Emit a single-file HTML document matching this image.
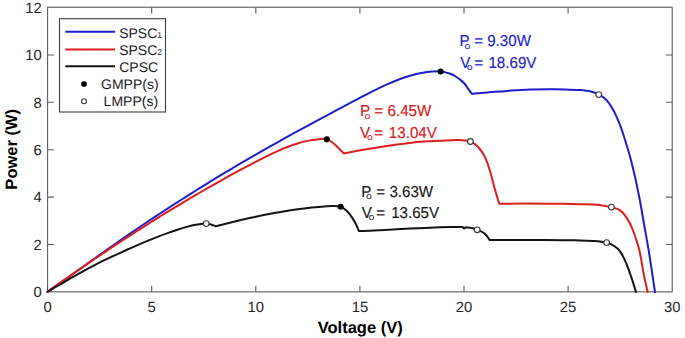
<!DOCTYPE html>
<html><head><meta charset="utf-8"><style>
html,body{margin:0;padding:0;background:#fff;}
body{width:685px;height:338px;overflow:hidden;}
svg{display:block;}
text{font-family:"Liberation Sans",sans-serif;text-rendering:geometricPrecision;}
</style></head><body>
<svg width="685" height="338" viewBox="0 0 685 338">
<rect x="0" y="0" width="685" height="338" fill="#fff"/>
<!-- axes box -->
<g stroke="#5a5a5a" stroke-width="1.1" fill="none">
<rect x="47.6" y="7.25" width="624.6" height="284.6"/>
<!-- x ticks bottom & top -->
<path d="M151.7 291.9V285.7M255.8 291.9V285.7M359.9 291.9V285.7M464.0 291.9V285.7M568.1 291.9V285.7
M151.7 7.25V13.6M255.8 7.25V13.6M359.9 7.25V13.6M464.0 7.25V13.6M568.1 7.25V13.6
M47.6 244.5H53.9M47.6 197.1H53.9M47.6 149.7H53.9M47.6 102.3H53.9M47.6 54.95H53.9
M672.2 244.5H665.9M672.2 197.1H665.9M672.2 149.7H665.9M672.2 102.3H665.9M672.2 54.95H665.9"/>
</g>
<!-- tick labels -->
<g font-size="14.8" fill="#262626" text-anchor="middle">
<text x="47.6" y="312.2">0</text>
<text x="151.7" y="312.2">5</text>
<text x="255.8" y="312.2">10</text>
<text x="359.9" y="312.2">15</text>
<text x="464.0" y="312.2">20</text>
<text x="568.1" y="312.2">25</text>
<text x="672.2" y="312.2">30</text>
</g>
<g font-size="14.8" fill="#262626" text-anchor="end">
<text x="41.8" y="297.1">0</text>
<text x="41.8" y="249.7">2</text>
<text x="41.8" y="202.3">4</text>
<text x="41.8" y="154.9">6</text>
<text x="41.8" y="107.5">8</text>
<text x="41.8" y="60.2">10</text>
<text x="41.8" y="12.8">12</text>
</g>
<!-- axis labels -->
<text x="360.2" y="333" font-size="16.5" font-weight="bold" fill="#000" text-anchor="middle">Voltage (V)</text>
<text transform="translate(16.6,149.3) rotate(-90)" x="0" y="0" font-size="16.5" font-weight="bold" fill="#000" text-anchor="middle">Power (W)</text>

<!-- curves -->
<g fill="none" stroke-width="2" stroke-linejoin="round" stroke-linecap="round">
<path d="M47.50 291.80C50.83 289.46 54.17 287.12 57.50 284.77C60.83 282.42 64.17 280.07 67.50 277.72C70.83 275.37 74.17 273.01 77.50 270.65C80.83 268.29 84.17 265.91 87.50 263.54C90.83 261.17 94.17 258.80 97.50 256.43C100.83 254.06 104.17 251.69 107.50 249.33C110.83 246.97 114.17 244.62 117.50 242.28C120.83 239.94 124.17 237.62 127.50 235.32C130.83 233.02 134.17 230.74 137.50 228.48C140.83 226.22 144.17 223.98 147.50 221.76C150.83 219.54 154.17 217.34 157.50 215.15C160.83 212.96 164.17 210.78 167.50 208.61C170.83 206.45 174.17 204.29 177.50 202.16C180.83 200.03 184.17 197.91 187.50 195.80C190.83 193.69 194.17 191.60 197.50 189.52C200.83 187.44 204.17 185.37 207.50 183.32C210.83 181.27 214.17 179.22 217.50 177.20C220.83 175.18 224.17 173.18 227.50 171.18C230.83 169.19 234.17 167.20 237.50 165.23C240.83 163.26 244.17 161.31 247.50 159.37C250.83 157.43 254.17 155.51 257.50 153.60C260.83 151.69 264.17 149.80 267.50 147.91C270.83 146.02 274.17 144.14 277.50 142.28C280.83 140.42 284.17 138.57 287.50 136.73C290.83 134.89 294.17 133.05 297.50 131.23C300.83 129.41 304.17 127.59 307.50 125.78C310.83 123.97 314.17 122.17 317.50 120.38C320.83 118.59 324.17 116.80 327.50 115.02C330.83 113.24 334.17 111.46 337.50 109.68C340.83 107.91 344.17 106.14 347.50 104.37C350.83 102.60 354.17 100.83 357.50 99.08C360.83 97.33 364.17 95.56 367.50 93.85C370.83 92.14 374.17 90.43 377.50 88.81C380.83 87.19 384.17 85.62 387.50 84.14C390.83 82.66 394.17 81.24 397.50 79.96C400.83 78.68 404.17 77.48 407.50 76.44C410.83 75.40 414.17 74.47 417.50 73.73C420.83 72.99 424.17 72.39 427.50 71.99C430.83 71.59 434.17 71.36 437.50 71.35C438.50 71.35 439.50 71.31 440.50 71.40C442.17 71.54 443.83 71.98 445.50 72.40C447.07 72.79 448.63 73.21 450.20 73.80C451.80 74.40 453.40 75.07 455.00 76.00C456.57 76.91 458.13 78.05 459.70 79.30C461.27 80.55 462.83 81.67 464.40 83.50C465.67 84.98 466.93 87.07 468.20 88.80C469.47 90.53 470.73 92.20 472.00 93.90C477.73 93.37 483.47 92.77 489.20 92.30C492.80 92.01 496.40 91.78 500.00 91.50C503.80 91.21 507.60 90.86 511.40 90.60C517.60 90.17 523.80 89.82 530.00 89.60C536.00 89.39 542.00 89.33 548.00 89.30C553.67 89.27 559.33 89.24 565.00 89.40C570.00 89.54 575.00 89.68 580.00 90.10C583.33 90.38 586.67 90.38 590.00 91.20C592.93 91.92 595.87 92.74 598.80 94.40C601.40 95.87 604.00 97.25 606.60 100.20C608.97 102.89 611.33 106.33 613.70 110.80C615.67 114.52 617.63 118.81 619.60 123.90C621.60 129.08 623.60 135.30 625.60 141.70C627.33 147.25 629.07 152.80 630.80 159.40C633.80 170.83 636.80 184.11 639.80 200.00C641.27 207.77 642.73 216.67 644.20 225.00C645.67 233.33 647.13 241.14 648.60 250.00C650.73 262.89 652.87 278.00 655.00 292.00" stroke="#1e1ec8"/>
<path d="M47.50 291.80C50.83 289.43 54.17 287.05 57.50 284.69C60.83 282.33 64.17 279.99 67.50 277.66C70.83 275.33 74.17 273.01 77.50 270.70C80.83 268.39 84.17 266.10 87.50 263.82C90.83 261.54 94.17 259.28 97.50 257.03C100.83 254.78 104.17 252.53 107.50 250.31C110.83 248.09 114.17 245.88 117.50 243.68C120.83 241.49 124.17 239.30 127.50 237.14C130.83 234.97 134.17 232.82 137.50 230.69C140.83 228.56 144.17 226.44 147.50 224.33C150.83 222.23 154.17 220.13 157.50 218.06C160.83 215.99 164.17 213.92 167.50 211.88C170.83 209.84 174.17 207.82 177.50 205.81C180.83 203.80 184.17 201.81 187.50 199.83C190.83 197.85 194.17 195.89 197.50 193.95C200.83 192.01 204.17 190.08 207.50 188.17C210.83 186.26 214.17 184.38 217.50 182.51C220.83 180.64 224.17 178.78 227.50 176.94C230.83 175.10 234.17 173.29 237.50 171.49C240.83 169.69 244.17 167.91 247.50 166.15C250.83 164.39 254.17 162.63 257.50 160.92C260.83 159.20 264.17 157.49 267.50 155.86C270.83 154.23 274.17 152.63 277.50 151.15C280.83 149.67 284.17 148.24 287.50 146.96C290.83 145.68 294.17 144.49 297.50 143.48C300.83 142.47 304.17 141.57 307.50 140.89C310.83 140.21 314.17 139.67 317.50 139.38C320.53 139.11 323.57 138.11 326.60 139.10C329.37 140.00 332.13 142.12 334.90 144.50C336.50 145.87 338.10 147.57 339.70 149.20C341.03 150.56 342.37 152.00 343.70 153.40C347.47 152.70 351.23 151.99 355.00 151.30C358.33 150.69 361.67 150.08 365.00 149.50C371.67 148.33 378.33 147.20 385.00 146.20C393.33 144.95 401.67 143.87 410.00 142.90C413.33 142.51 416.67 142.10 420.00 141.80C426.67 141.20 433.33 141.10 440.00 140.80C445.77 140.54 451.53 140.02 457.30 140.10C459.87 140.14 462.43 140.08 465.00 140.40C466.80 140.62 468.60 140.67 470.40 141.40C473.03 142.47 475.67 144.19 478.30 147.20C480.53 149.76 482.77 152.24 485.00 157.20C486.83 161.27 488.67 166.56 490.50 172.70C491.97 177.61 493.43 184.06 494.90 189.30C496.33 194.42 497.77 198.97 499.20 203.80C507.80 203.70 516.40 203.51 525.00 203.50C535.00 203.48 545.00 203.67 555.00 203.80C563.33 203.91 571.67 203.93 580.00 204.20C586.67 204.41 593.33 204.25 600.00 205.10C603.80 205.59 607.60 206.04 611.40 207.10C614.20 207.88 617.00 207.96 619.80 210.10C621.77 211.60 623.73 213.52 625.70 216.30C627.17 218.37 628.63 220.68 630.10 223.70C631.33 226.24 632.57 229.17 633.80 232.50C634.80 235.20 635.80 238.18 636.80 241.40C637.63 244.09 638.47 246.59 639.30 250.00C641.00 256.95 642.70 269.48 644.40 277.60C645.50 282.85 646.60 287.20 647.70 292.00" stroke="#dc1e1e"/>
<path d="M47.50 291.80C50.83 289.87 54.17 287.94 57.50 286.00C60.83 284.06 64.17 282.09 67.50 280.16C70.83 278.23 74.17 276.29 77.50 274.40C80.83 272.51 84.17 270.64 87.50 268.84C90.83 267.04 94.17 265.29 97.50 263.60C100.83 261.91 104.17 260.29 107.50 258.70C110.83 257.11 114.17 255.57 117.50 254.04C120.83 252.51 124.17 251.01 127.50 249.53C130.83 248.05 134.17 246.57 137.50 245.13C140.83 243.69 144.17 242.28 147.50 240.91C150.83 239.54 154.17 238.20 157.50 236.91C160.83 235.62 164.17 234.37 167.50 233.16C170.83 231.95 174.17 230.77 177.50 229.68C180.83 228.59 184.17 227.51 187.50 226.64C190.83 225.77 194.17 224.97 197.50 224.46C200.40 224.01 203.30 223.35 206.20 223.60C207.80 223.74 209.40 224.07 211.00 224.50C212.60 224.93 214.20 225.63 215.80 226.20C219.80 225.20 223.80 224.19 227.80 223.21C231.80 222.23 235.80 221.27 239.80 220.33C243.80 219.39 247.80 218.47 251.80 217.59C255.80 216.71 259.80 215.85 263.80 215.04C267.80 214.23 271.80 213.44 275.80 212.71C279.80 211.98 283.80 211.29 287.80 210.66C291.80 210.03 295.80 209.44 299.80 208.92C303.80 208.40 307.80 207.93 311.80 207.53C315.80 207.13 319.80 206.85 323.80 206.54C326.70 206.32 329.60 205.84 332.50 205.90C335.23 205.96 337.97 205.62 340.70 206.80C342.67 207.65 344.63 208.82 346.60 210.70C348.57 212.58 350.53 214.99 352.50 218.10C353.73 220.05 354.97 222.11 356.20 224.70C357.10 226.59 358.00 228.90 358.90 231.00C362.60 230.90 366.30 230.84 370.00 230.70C375.00 230.51 380.00 230.16 385.00 229.90C393.33 229.46 401.67 229.01 410.00 228.60C415.00 228.36 420.00 228.12 425.00 227.90C430.00 227.68 435.00 227.46 440.00 227.30C444.00 227.17 448.00 227.07 452.00 227.00C455.53 226.94 459.07 226.93 462.60 226.90C463.13 227.47 463.67 228.62 464.20 228.60C464.67 228.58 465.13 227.67 465.60 227.20C468.00 227.57 470.40 227.65 472.80 228.30C474.27 228.70 475.73 229.21 477.20 229.80C479.43 230.70 481.67 231.21 483.90 233.10C485.07 234.09 486.23 235.18 487.40 236.70C488.17 237.70 488.93 238.97 489.70 240.10C496.47 240.07 503.23 240.03 510.00 240.00C521.67 239.95 533.33 239.83 545.00 239.90C555.00 239.96 565.00 240.04 575.00 240.30C581.00 240.46 587.00 240.47 593.00 240.90C595.33 241.07 597.67 241.20 600.00 241.50C602.20 241.78 604.40 241.94 606.60 242.60C609.10 243.35 611.60 244.24 614.10 246.00C616.07 247.38 618.03 248.57 620.00 251.30C622.23 254.40 624.47 258.87 626.70 264.30C628.53 268.76 630.37 274.32 632.20 279.90C633.47 283.75 634.73 287.97 636.00 292.00" stroke="#141414"/>
</g>
<!-- markers -->
<g fill="#000">
<circle cx="440.6" cy="71.5" r="3.05"/>
<circle cx="326.75" cy="139.35" r="3.05"/>
<circle cx="340.65" cy="206.8" r="3.05"/>
</g>
<g fill="#fff" stroke="#3a3a3a" stroke-width="1.15">
<circle cx="598.8" cy="94.6" r="2.85"/>
<circle cx="470.4" cy="141.5" r="2.85"/>
<circle cx="611.4" cy="207.1" r="2.85"/>
<circle cx="206.2" cy="223.6" r="2.85"/>
<circle cx="477.2" cy="229.8" r="2.85"/>
<circle cx="606.6" cy="242.6" r="2.85"/>
</g>

<!-- annotations -->
<g fill="#2323cd" stroke="#2323cd" stroke-width="0.15">
<text x="459.56" y="46.20" font-size="15.15" transform="matrix(1 0 0 1.0450 0 -2.079)">P</text>
<text x="464.55" y="49.23" font-size="9.20" textLength="5.90" lengthAdjust="spacingAndGlyphs" stroke="none">o</text>
<text x="474.26" y="46.20" font-size="15.15" transform="matrix(1 0 0 1.0450 0 -2.079)">=</text>
<text x="487.19" y="46.20" font-size="15.15" transform="matrix(1 0 0 1.0450 0 -2.079)">9.30W</text>
<text x="460.13" y="67.80" font-size="15.15" transform="matrix(1 0 0 1.0450 0 -3.051)">V</text>
<text x="466.75" y="69.73" font-size="9.20" textLength="5.90" lengthAdjust="spacingAndGlyphs" stroke="none">o</text>
<text x="474.26" y="67.80" font-size="15.15" transform="matrix(1 0 0 1.0450 0 -3.051)">=</text>
<text x="488.45" y="67.80" font-size="15.15" transform="matrix(1 0 0 1.0450 0 -3.051)">18.69V</text>
</g>
<g fill="#d82020" stroke="#d82020" stroke-width="0.15">
<text x="359.96" y="116.40" font-size="15.15" transform="matrix(1 0 0 1.0450 0 -5.238)">P</text>
<text x="364.55" y="119.13" font-size="9.20" textLength="5.90" lengthAdjust="spacingAndGlyphs" stroke="none">o</text>
<text x="374.36" y="116.40" font-size="15.15" transform="matrix(1 0 0 1.0450 0 -5.238)">=</text>
<text x="387.53" y="116.40" font-size="15.15" transform="matrix(1 0 0 1.0450 0 -5.238)">6.45W</text>
<text x="359.93" y="137.80" font-size="15.15" transform="matrix(1 0 0 1.0450 0 -6.201)">V</text>
<text x="366.95" y="139.93" font-size="9.20" textLength="5.90" lengthAdjust="spacingAndGlyphs" stroke="none">o</text>
<text x="374.36" y="137.80" font-size="15.15" transform="matrix(1 0 0 1.0450 0 -6.201)">=</text>
<text x="388.85" y="137.80" font-size="15.15" transform="matrix(1 0 0 1.0450 0 -6.201)">13.04V</text>
</g>
<g fill="#1a1a1a" stroke="#1a1a1a" stroke-width="0.15">
<text x="361.36" y="196.50" font-size="15.15" transform="matrix(1 0 0 1.0450 0 -8.842)">P</text>
<text x="366.05" y="199.43" font-size="9.20" textLength="5.90" lengthAdjust="spacingAndGlyphs" stroke="none">o</text>
<text x="376.36" y="196.50" font-size="15.15" transform="matrix(1 0 0 1.0450 0 -8.842)">=</text>
<text x="389.42" y="196.50" font-size="15.15" transform="matrix(1 0 0 1.0450 0 -8.842)">3.63W</text>
<text x="361.73" y="218.00" font-size="15.15" transform="matrix(1 0 0 1.0450 0 -9.810)">V</text>
<text x="368.55" y="220.13" font-size="9.20" textLength="5.90" lengthAdjust="spacingAndGlyphs" stroke="none">o</text>
<text x="376.36" y="218.00" font-size="15.15" transform="matrix(1 0 0 1.0450 0 -9.810)">=</text>
<text x="391.15" y="218.00" font-size="15.15" transform="matrix(1 0 0 1.0450 0 -9.810)">13.65V</text>
</g>

<!-- legend -->
<rect x="59.5" y="18.7" width="106" height="93.3" fill="#fff" stroke="#3c3c3c" stroke-width="1.1"/>
<g stroke-width="2">
<line x1="65.3" y1="31.8" x2="115" y2="31.8" stroke="#1e1ec8"/>
<line x1="65.3" y1="49.6" x2="115" y2="49.6" stroke="#dc1e1e"/>
<line x1="65.3" y1="66.2" x2="115" y2="66.2" stroke="#141414"/>
</g>
<circle cx="84" cy="84.0" r="2.85" fill="#000"/>
<circle cx="84" cy="101.2" r="2.45" fill="#fff" stroke="#3a3a3a" stroke-width="1.15"/>
<g font-size="14" fill="#1a1a1a">
<text x="119.2" y="37.9">SPSC<tspan font-size="8.5" dy="0">1</tspan></text>
<text x="119.2" y="55.4">SPSC<tspan font-size="8.5" dy="0">2</tspan></text>
<text x="119.2" y="71.7">CPSC</text>
<text x="101" y="88.9">GMPP(s)</text>
<text x="103.6" y="105.8">LMPP(s)</text>
</g>
</svg>
</body></html>
